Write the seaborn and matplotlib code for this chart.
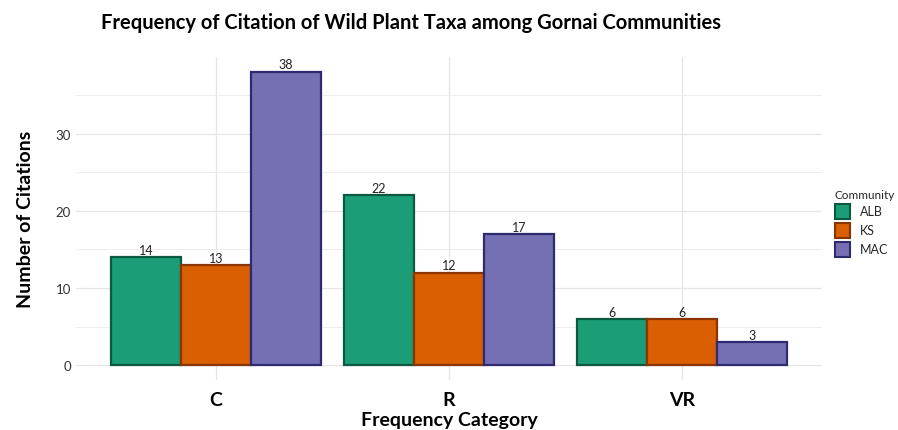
import matplotlib
matplotlib.use("Agg")
import matplotlib.pyplot as plt
import seaborn as sns
import pandas as pd
from matplotlib.patches import Patch

categories = ["C", "R", "VR"]
communities = ["ALB", "KS", "MAC"]
alb = [14, 22, 6]
ks = [13, 12, 6]
mac = [38, 17, 3]

fill_colors = ["#1B9E77", "#D95F02", "#7570B3"]
edge_colors = ["#0B5A40", "#8A3500", "#2E2A70"]

rows = []
for name, vals in zip(communities, [alb, ks, mac]):
    for c, v in zip(categories, vals):
        rows.append({"Frequency Category": c, "Community": name, "Count": v})
df = pd.DataFrame(rows)

sns.set_theme(style="whitegrid")
plt.rcParams['font.family'] = ['Lato', 'DejaVu Sans']

fig = plt.figure(figsize=(8.98, 4.31), dpi=100)
ax = fig.add_axes([0.0846, 0.116, 0.8308, 0.749])

sns.barplot(data=df, x="Frequency Category", y="Count", hue="Community",
            order=categories, hue_order=communities, palette=fill_colors,
            width=0.9, gap=0, ax=ax, legend=False, saturation=1)

for i, cont in enumerate(ax.containers):
    for p in cont:
        p.set_edgecolor(edge_colors[i])
        p.set_linewidth(1.6)
    ax.bar_label(cont, labels=[str(int(v)) for v in cont.datavalues],
                 padding=1, fontsize=9, color="#222222")

ax.set_xlim(-0.6, 2.6)
ax.set_ylim(-1.9, 39.9)
ax.set_yticks([0, 10, 20, 30])
ax.set_yticks([5, 15, 25, 35], minor=True)
ax.set_facecolor("white")
ax.grid(True, which="major", color="#e6e6e6", linewidth=0.9)
ax.grid(True, which="minor", axis="y", color="#ededed", linewidth=0.7)
ax.set_axisbelow(True)
for s in ax.spines.values():
    s.set_visible(False)
ax.tick_params(axis="x", labelsize=14, pad=8, length=0)
ax.tick_params(axis="y", labelsize=9.5, colors="#333333", length=0, which="both")
for t in ax.get_xticklabels():
    t.set_fontweight("bold")
    t.set_color("black")

ax.set_xlabel("Frequency Category", fontsize=14, fontweight="bold", labelpad=2, color="black")
ax.set_ylabel("Number of Citations", fontsize=14, fontweight="bold", labelpad=16, color="black")

fig.text(0.113, 0.947, "Frequency of Citation of Wild Plant Taxa among Gornai Communities",
         fontsize=14.5, fontweight="bold", ha="left", va="center", color="black")

handles = [Patch(facecolor=fc, edgecolor=ec, linewidth=1.5, label=c)
           for fc, ec, c in zip(fill_colors, edge_colors, communities)]
leg = fig.legend(handles=handles, title="Community", loc="upper left",
                 bbox_to_anchor=(0.927, 0.565), frameon=False, fontsize=9,
                 title_fontsize=8.5, handlelength=1.2, handleheight=1.5,
                 handletextpad=0.8, labelspacing=0.3, alignment="left",
                 borderaxespad=0, borderpad=0.2)

fig.savefig("out.png", dpi=100)
